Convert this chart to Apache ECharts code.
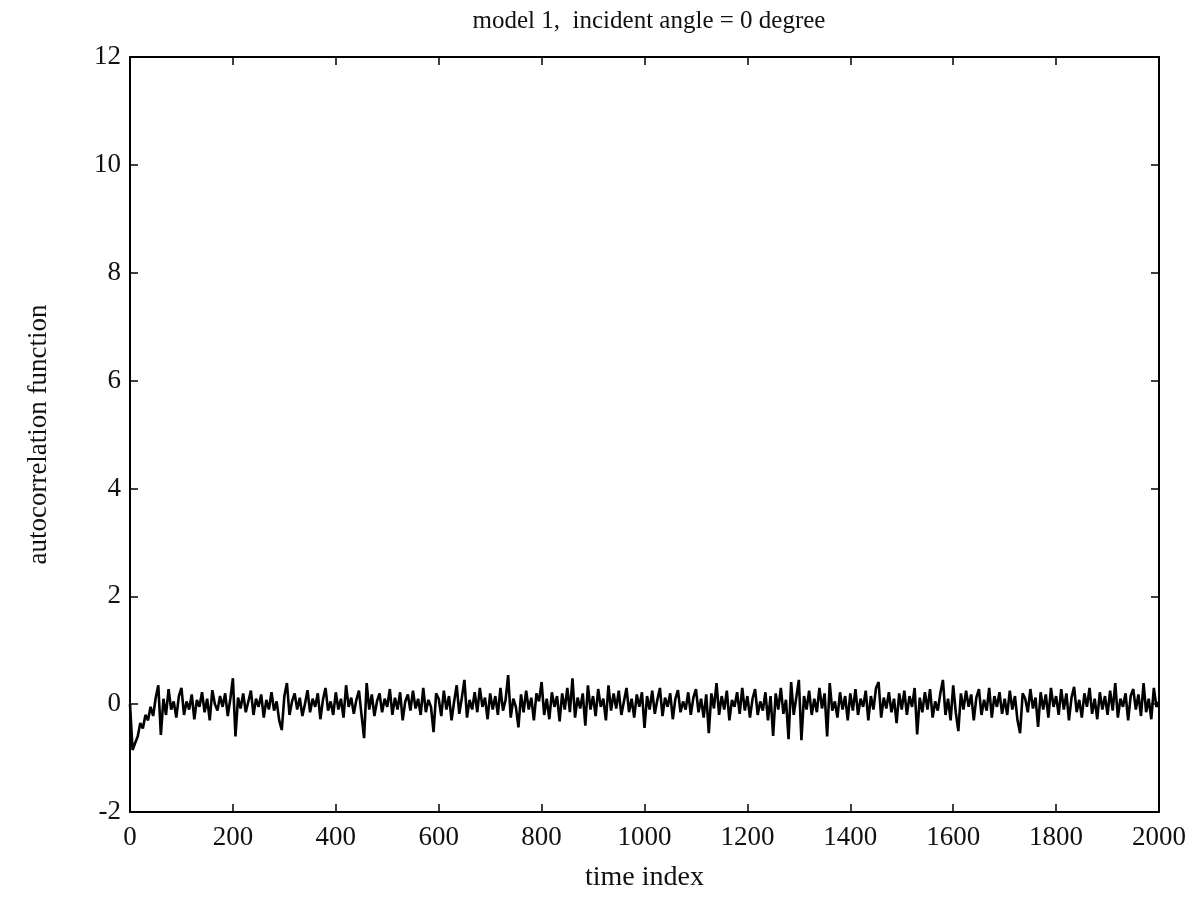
<!DOCTYPE html>
<html>
<head>
<meta charset="utf-8">
<script src="https://cdn.jsdelivr.net/npm/echarts@6/dist/echarts.min.js"></script>
<style>
html,body{margin:0;padding:0;background:#fff;}
#chart{width:1191px;height:912px;}
</style>
</head>
<body>
<div id="chart"></div>
<script>
// time index step between the listed samples
var STEP = 5;
// autocorrelation values (index 0, 5, 10, ... 2000)
var seg0 = [0.0,-0.85,-0.72,-0.6,-0.35,-0.45,-0.2,-0.3,-0.05,-0.22,0.12,0.35,-0.57,0.1,-0.2,0.28,-0.1,0.05,-0.25,0.15];
var seg1 = [0.3,-0.2,0.05,-0.1,0.18,-0.28,0.08,-0.05,0.22,-0.15,0.1,-0.3,0.26,0.0,-0.12,0.15,-0.05,0.2,-0.22,0.1];
var seg2 = [0.48,-0.6,0.12,-0.08,0.2,-0.15,0.05,0.25,-0.2,0.1,-0.05,0.18,-0.25,0.08,-0.1,0.22,-0.12,0.05,-0.3,-0.48];
var seg3 = [0.15,0.39,-0.2,0.05,0.2,-0.1,0.12,-0.22,0.0,0.26,-0.15,0.1,-0.05,0.2,-0.28,0.08,0.3,-0.12,0.05,-0.2];
var seg4 = [0.22,-0.1,0.1,-0.25,0.35,-0.05,0.12,-0.18,0.08,0.25,-0.2,-0.63,0.39,-0.1,0.18,-0.22,0.05,0.2,-0.15,0.1];
var seg5 = [-0.05,0.28,-0.2,0.12,-0.1,0.22,-0.3,0.05,0.18,-0.12,0.25,-0.08,0.1,-0.2,0.3,-0.15,0.08,-0.05,-0.52,0.2];
var seg6 = [0.1,-0.22,0.25,-0.1,0.15,-0.3,0.05,0.35,-0.18,0.12,0.45,-0.25,0.08,-0.1,0.22,-0.15,0.3,-0.05,0.12,-0.28];
var seg7 = [0.2,-0.1,0.15,-0.2,0.3,-0.12,0.08,0.54,-0.25,0.1,-0.05,-0.43,0.18,-0.15,0.25,-0.1,0.12,-0.3,0.2,0.05];
var seg8 = [0.41,-0.2,0.1,-0.28,0.22,-0.05,0.15,-0.32,0.2,-0.1,0.3,-0.15,0.48,-0.25,0.12,-0.08,0.2,-0.4,0.35,-0.1];
var seg9 = [0.15,-0.22,0.28,-0.05,0.1,-0.3,0.35,-0.12,0.2,-0.08,0.25,-0.2,0.05,0.3,-0.15,0.1,-0.25,0.18,-0.05,0.22];
var seg10 = [-0.44,0.15,-0.1,0.25,-0.18,0.08,0.3,-0.22,0.12,-0.05,0.2,-0.28,0.1,0.26,-0.15,0.05,-0.1,0.22,-0.2,0.12];
var seg11 = [0.28,-0.15,0.1,-0.25,0.18,-0.54,0.2,-0.08,0.39,-0.2,0.15,-0.1,0.25,-0.3,0.08,-0.05,0.22,-0.18,0.3,-0.12];
var seg12 = [0.15,-0.25,0.1,0.28,-0.2,0.05,-0.12,0.22,-0.3,0.15,-0.59,0.2,-0.1,0.3,-0.18,0.08,-0.65,0.41,-0.2,0.12];
var seg13 = [0.45,-0.67,0.15,-0.1,0.25,-0.2,0.1,-0.15,0.3,-0.08,0.2,-0.6,0.39,-0.12,0.05,-0.25,0.22,-0.1,0.15,-0.3];
var seg14 = [0.2,-0.12,0.28,-0.2,0.1,-0.05,0.25,-0.3,0.15,-0.1,0.3,0.41,-0.25,0.12,-0.08,0.22,-0.15,0.1,-0.35,0.2];
var seg15 = [-0.1,0.25,-0.2,0.15,-0.05,0.3,-0.56,0.12,-0.15,0.22,-0.1,0.28,-0.25,0.05,-0.12,0.2,0.45,-0.2,0.1,-0.3];
var seg16 = [0.35,-0.15,-0.5,0.2,-0.1,0.25,-0.05,0.18,-0.3,0.12,0.28,-0.2,0.08,-0.12,0.3,-0.25,0.15,-0.05,0.22,-0.18];
var seg17 = [0.1,-0.2,0.25,-0.1,0.15,-0.3,-0.54,0.2,0.1,-0.15,0.28,-0.08,0.12,-0.42,0.22,-0.1,0.18,-0.25,0.3,-0.05];
var seg18 = [0.15,-0.2,0.28,-0.1,0.2,-0.3,0.12,0.32,-0.15,0.08,-0.25,0.2,-0.05,0.3,-0.18,0.1,-0.28,0.22,-0.1,0.15];
var seg19 = [-0.2,0.25,-0.12,0.39,-0.25,0.1,-0.05,0.2,-0.3,0.15,0.28,-0.1,0.18,-0.22,0.39,-0.15,0.1,-0.28,0.3,-0.05];
var segEnd = [0.05];

var xTicks = [0,200,400,600,800,1000,1200,1400,1600,1800,2000];
var yTicks = [-2,0,2,4,6,8,10,12];

var values = [].concat(seg0,seg1,seg2,seg3,seg4,seg5,seg6,seg7,seg8,seg9,
  seg10,seg11,seg12,seg13,seg14,seg15,seg16,seg17,seg18,seg19,segEnd);
var pts = values.map(function(v,i){ return [i*STEP, v]; });

var FONT = '"Liberation Serif","DejaVu Serif",serif';
var chart = echarts.init(document.getElementById('chart'));
function axisBase(extra){
  var a = {
    type:'value',
    axisLine:{show:true,onZero:false,lineStyle:{color:'#000',width:2}},
    axisTick:{show:true,inside:true,length:8,lineStyle:{color:'#000',width:1.5}},
    splitLine:{show:false}
  };
  for (var k in extra) a[k] = extra[k];
  return a;
}
chart.setOption({
  animation:false,
  backgroundColor:'#fff',
  title:{text:'model 1,  incident angle = 0 degree',left:644,textAlign:'center',top:4,
    textStyle:{fontFamily:FONT,fontSize:25,fontWeight:'normal',color:'#111'}},
  grid:{left:130,right:32,top:57,bottom:100,containLabel:false},
  xAxis:[
    axisBase({min:xTicks[0],max:xTicks[xTicks.length-1],interval:200,position:'bottom',
      name:'time index',nameLocation:'middle',nameGap:52,
      nameTextStyle:{fontFamily:FONT,fontSize:28,color:'#111'},
      axisLabel:{margin:12,fontFamily:FONT,fontSize:27,color:'#111',formatter:function(v){return String(v);}}}),
    axisBase({min:xTicks[0],max:xTicks[xTicks.length-1],interval:200,position:'top',
      axisLabel:{show:false}})
  ],
  yAxis:[
    axisBase({min:yTicks[0],max:yTicks[yTicks.length-1],interval:2,position:'left',
      name:'autocorrelation function',nameLocation:'middle',nameGap:78,nameRotate:90,
      nameTextStyle:{fontFamily:FONT,fontSize:27,color:'#111'},
      axisLabel:{margin:9,fontFamily:FONT,fontSize:27,color:'#111'}}),
    axisBase({min:yTicks[0],max:yTicks[yTicks.length-1],interval:2,position:'right',
      axisLabel:{show:false}})
  ],
  series:[{
    type:'line',xAxisIndex:0,yAxisIndex:0,data:pts,showSymbol:false,symbol:'none',
    lineStyle:{color:'#000',width:2.6},sampling:null
  }]
});
</script>
</body>
</html>
